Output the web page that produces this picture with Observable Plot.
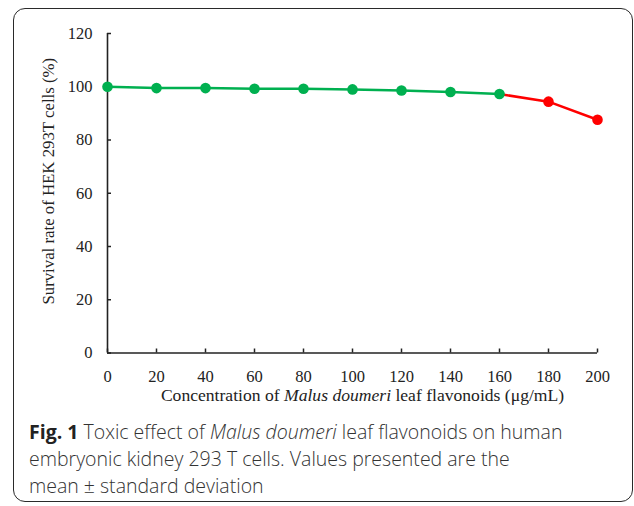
<!DOCTYPE html>
<html><head><meta charset="utf-8">
<script src="https://cdn.jsdelivr.net/npm/d3@7"></script>
<script src="https://cdn.jsdelivr.net/npm/@observablehq/plot@0.6"></script>
<style>
html,body{margin:0;padding:0;background:#fff;}
#wrap{position:relative;width:634px;height:506px;overflow:hidden;}
#frame{position:absolute;left:13px;top:8px;width:620px;height:494px;box-sizing:border-box;border:1.5px solid #2a2a2a;border-radius:12px;}
#chart{position:absolute;left:0;top:0;}
#caption{position:absolute;left:29px;top:418px;width:600px;font-family:"Open Sans",sans-serif;font-weight:300;font-size:19.5px;line-height:27px;color:#333;white-space:nowrap;}
#caption b{color:#222;font-weight:700;}
</style></head><body>
<div id="wrap"><div id="frame"></div><div id="chart"></div>
<div id="caption"><b>Fig. 1</b> Toxic effect of <i>Malus doumeri</i> leaf flavonoids on human<br>embryonic kidney 293 T cells. Values presented are the<br>mean ± standard deviation</div></div>
<script>
const concentrations = [0, 20, 40, 60, 80, 100, 120, 140, 160, 180, 200];
const survivalRates = [100, 99.5, 99.5, 99.25, 99.25, 99.0, 98.6, 98.0, 97.25, 94.4, 87.6];
const safeCount = 9; // first points (0–160 µg/mL) shown in green, the rest in red
const xTicks = [0, 20, 40, 60, 80, 100, 120, 140, 160, 180, 200];
const yTicks = [0, 20, 40, 60, 80, 100, 120];
const xTitle = "Concentration of Malus doumeri leaf flavonoids (μg/mL)";
const xTitleItalic = "Malus doumeri";
const yTitle = "Survival rate of HEK 293T cells (%)";

const rows = concentrations.map((c, i) => ({c, v: survivalRates[i]}));
const safe = rows.slice(0, safeCount);
const toxic = rows.slice(safeCount - 1);

const chart = Plot.plot({
  width: 634, height: 410,
  marginLeft: 107, marginRight: 37, marginTop: 33, marginBottom: 57.5,
  style: {background: "transparent", fontFamily: "'Liberation Serif','Times New Roman',serif", fontSize: "16px", color: "#222", overflow: "visible"},
  x: {domain: [0, 200]},
  y: {domain: [0, 120]},
  marks: [
    Plot.axisX({ticks: xTicks, tickSize: -4, tickPadding: 21, strokeWidth: 1.5, fontSize: 16.5, label: null}),
    Plot.axisY({ticks: yTicks, tickSize: -4, tickPadding: 19, strokeWidth: 1.5, fontSize: 16.5, label: null}),
    Plot.ruleX([0], {stroke: "#222", strokeWidth: 1.6}),
    Plot.ruleY([0], {stroke: "#222", strokeWidth: 1.6}),
    Plot.line(toxic, {x: "c", y: "v", stroke: "#FF0000", strokeWidth: 2.5}),
    Plot.line(safe, {x: "c", y: "v", stroke: "#00B050", strokeWidth: 2.5}),
    Plot.dot(toxic.slice(1), {x: "c", y: "v", r: 5.3, fill: "#FF0000"}),
    Plot.dot(safe, {x: "c", y: "v", r: 5.3, fill: "#00B050"}),
    Plot.text([xTitle], {text: d => d, frameAnchor: "bottom", lineAnchor: "bottom", textAnchor: "middle", dx: 10, dy: 47.5, fontSize: 17.6, fill: "#222"}),
    Plot.text([yTitle], {text: d => d, frameAnchor: "left", textAnchor: "middle", rotate: -90, dx: -59, dy: -12, fontSize: 16.8, fill: "#222"})
  ]
});

d3.select(chart).selectAll("text").filter(function() { return this.textContent === xTitle; }).each(function() {
  const t = d3.select(this);
  const [a, b] = xTitle.split(xTitleItalic);
  t.text(null);
  t.append("tspan").text(a);
  t.append("tspan").attr("font-style", "italic").text(xTitleItalic);
  t.append("tspan").text(b);
});

document.getElementById("chart").append(chart);
</script>
</body></html>
